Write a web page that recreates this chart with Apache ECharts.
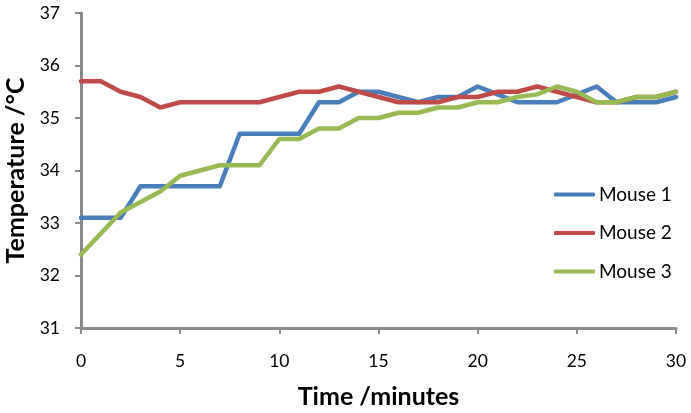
<!DOCTYPE html>
<html>
<head>
<meta charset="utf-8">
<script src="https://cdn.jsdelivr.net/npm/echarts@6/dist/echarts.min.js"></script>
<style>html,body{margin:0;padding:0;background:#fff;}#c{width:691px;height:413px;}</style>
</head>
<body>
<div id="c"></div>
<script>
var minutes = [0,1,2,3,4,5,6,7,8,9,10,11,12,13,14,15,16,17,18,19,20,21,22,23,24,25,26,27,28,29,30];
var mouse1 = [33.1,33.1,33.1,33.7,33.7,33.7,33.7,33.7,34.7,34.7,34.7,34.7,35.3,35.3,35.5,35.5,35.4,35.3,35.4,35.4,35.6,35.45,35.3,35.3,35.3,35.45,35.6,35.3,35.3,35.3,35.4];
var mouse2 = [35.7,35.7,35.5,35.4,35.2,35.3,35.3,35.3,35.3,35.3,35.4,35.5,35.5,35.6,35.5,35.4,35.3,35.3,35.3,35.4,35.4,35.5,35.5,35.6,35.5,35.4,35.3,35.3,35.4,35.4,35.5];
var mouse3 = [32.4,32.8,33.2,33.4,33.6,33.9,34.0,34.1,34.1,34.1,34.6,34.6,34.8,34.8,35.0,35.0,35.1,35.1,35.2,35.2,35.3,35.3,35.4,35.45,35.6,35.5,35.3,35.3,35.4,35.4,35.5];
var seriesNames = ['Mouse 1','Mouse 2','Mouse 3'];
var seriesColors = ['#4A7EBB','#BE4B48','#98B954'];
var xTicks = {min:0, max:30, step:5};
var yTicks = {min:31, max:37, step:1};

function pairs(vals){ return minutes.map(function(t,i){ return [t, vals[i]]; }); }
var allVals = [mouse1, mouse2, mouse3];
var FONT = 'Lato, "Open Sans", sans-serif';

var chart = echarts.init(document.getElementById('c'), null, {renderer:'canvas'});
chart.setOption({
  animation: false,
  backgroundColor: '#ffffff',
  grid: {left: 81, right: 15, top: 13, bottom: 85, containLabel: false, outerBoundsMode: 'none'},
  legend: {
    orient: 'vertical',
    left: 549, top: 180,
    icon: 'roundRect',
    itemWidth: 41, itemHeight: 4,
    itemGap: 19.5,
    textStyle: {fontFamily: FONT, fontSize: 19, color: '#000', lineHeight: 19, padding:[0,0,0,-1]},
    data: seriesNames
  },
  xAxis: {
    type: 'value', min: xTicks.min, max: xTicks.max, interval: xTicks.step,
    name: 'Time /minutes', nameLocation: 'middle', nameGap: 56,
    nameTextStyle: {fontFamily: FONT, fontSize: 25, fontWeight: 'bold', color: '#000'},
    axisLine: {show: true, lineStyle: {color: '#8a8a8a', width: 3}},
    axisTick: {show: true, inside: false, length: 6, lineStyle: {color: '#8a8a8a', width: 2}},
    axisLabel: {fontFamily: FONT, fontSize: 17.5, color: '#000', margin: 24},
    splitLine: {show: false}
  },
  yAxis: {
    type: 'value', min: yTicks.min, max: yTicks.max, interval: yTicks.step,
    name: 'Temperature /°C', nameLocation: 'middle', nameGap: 52, nameRotate: 90,
    nameTextStyle: {fontFamily: FONT, fontSize: 25, fontWeight: 'bold', color: '#000'},
    axisLine: {show: true, lineStyle: {color: '#8a8a8a', width: 3}},
    axisTick: {show: true, inside: false, length: 6, lineStyle: {color: '#8a8a8a', width: 2}},
    axisLabel: {fontFamily: FONT, fontSize: 17.5, color: '#000', margin: 21},
    splitLine: {show: false}
  },
  series: seriesNames.map(function(n, i){
    return {
      name: n, type: 'line', data: pairs(allVals[i]),
      symbol: 'none', showSymbol: false,
      color: seriesColors[i],
      lineStyle: {width: 4.5, color: seriesColors[i], cap: 'round', join: 'round'},
      itemStyle: {color: seriesColors[i]}
    };
  })
});
</script>
</body>
</html>
